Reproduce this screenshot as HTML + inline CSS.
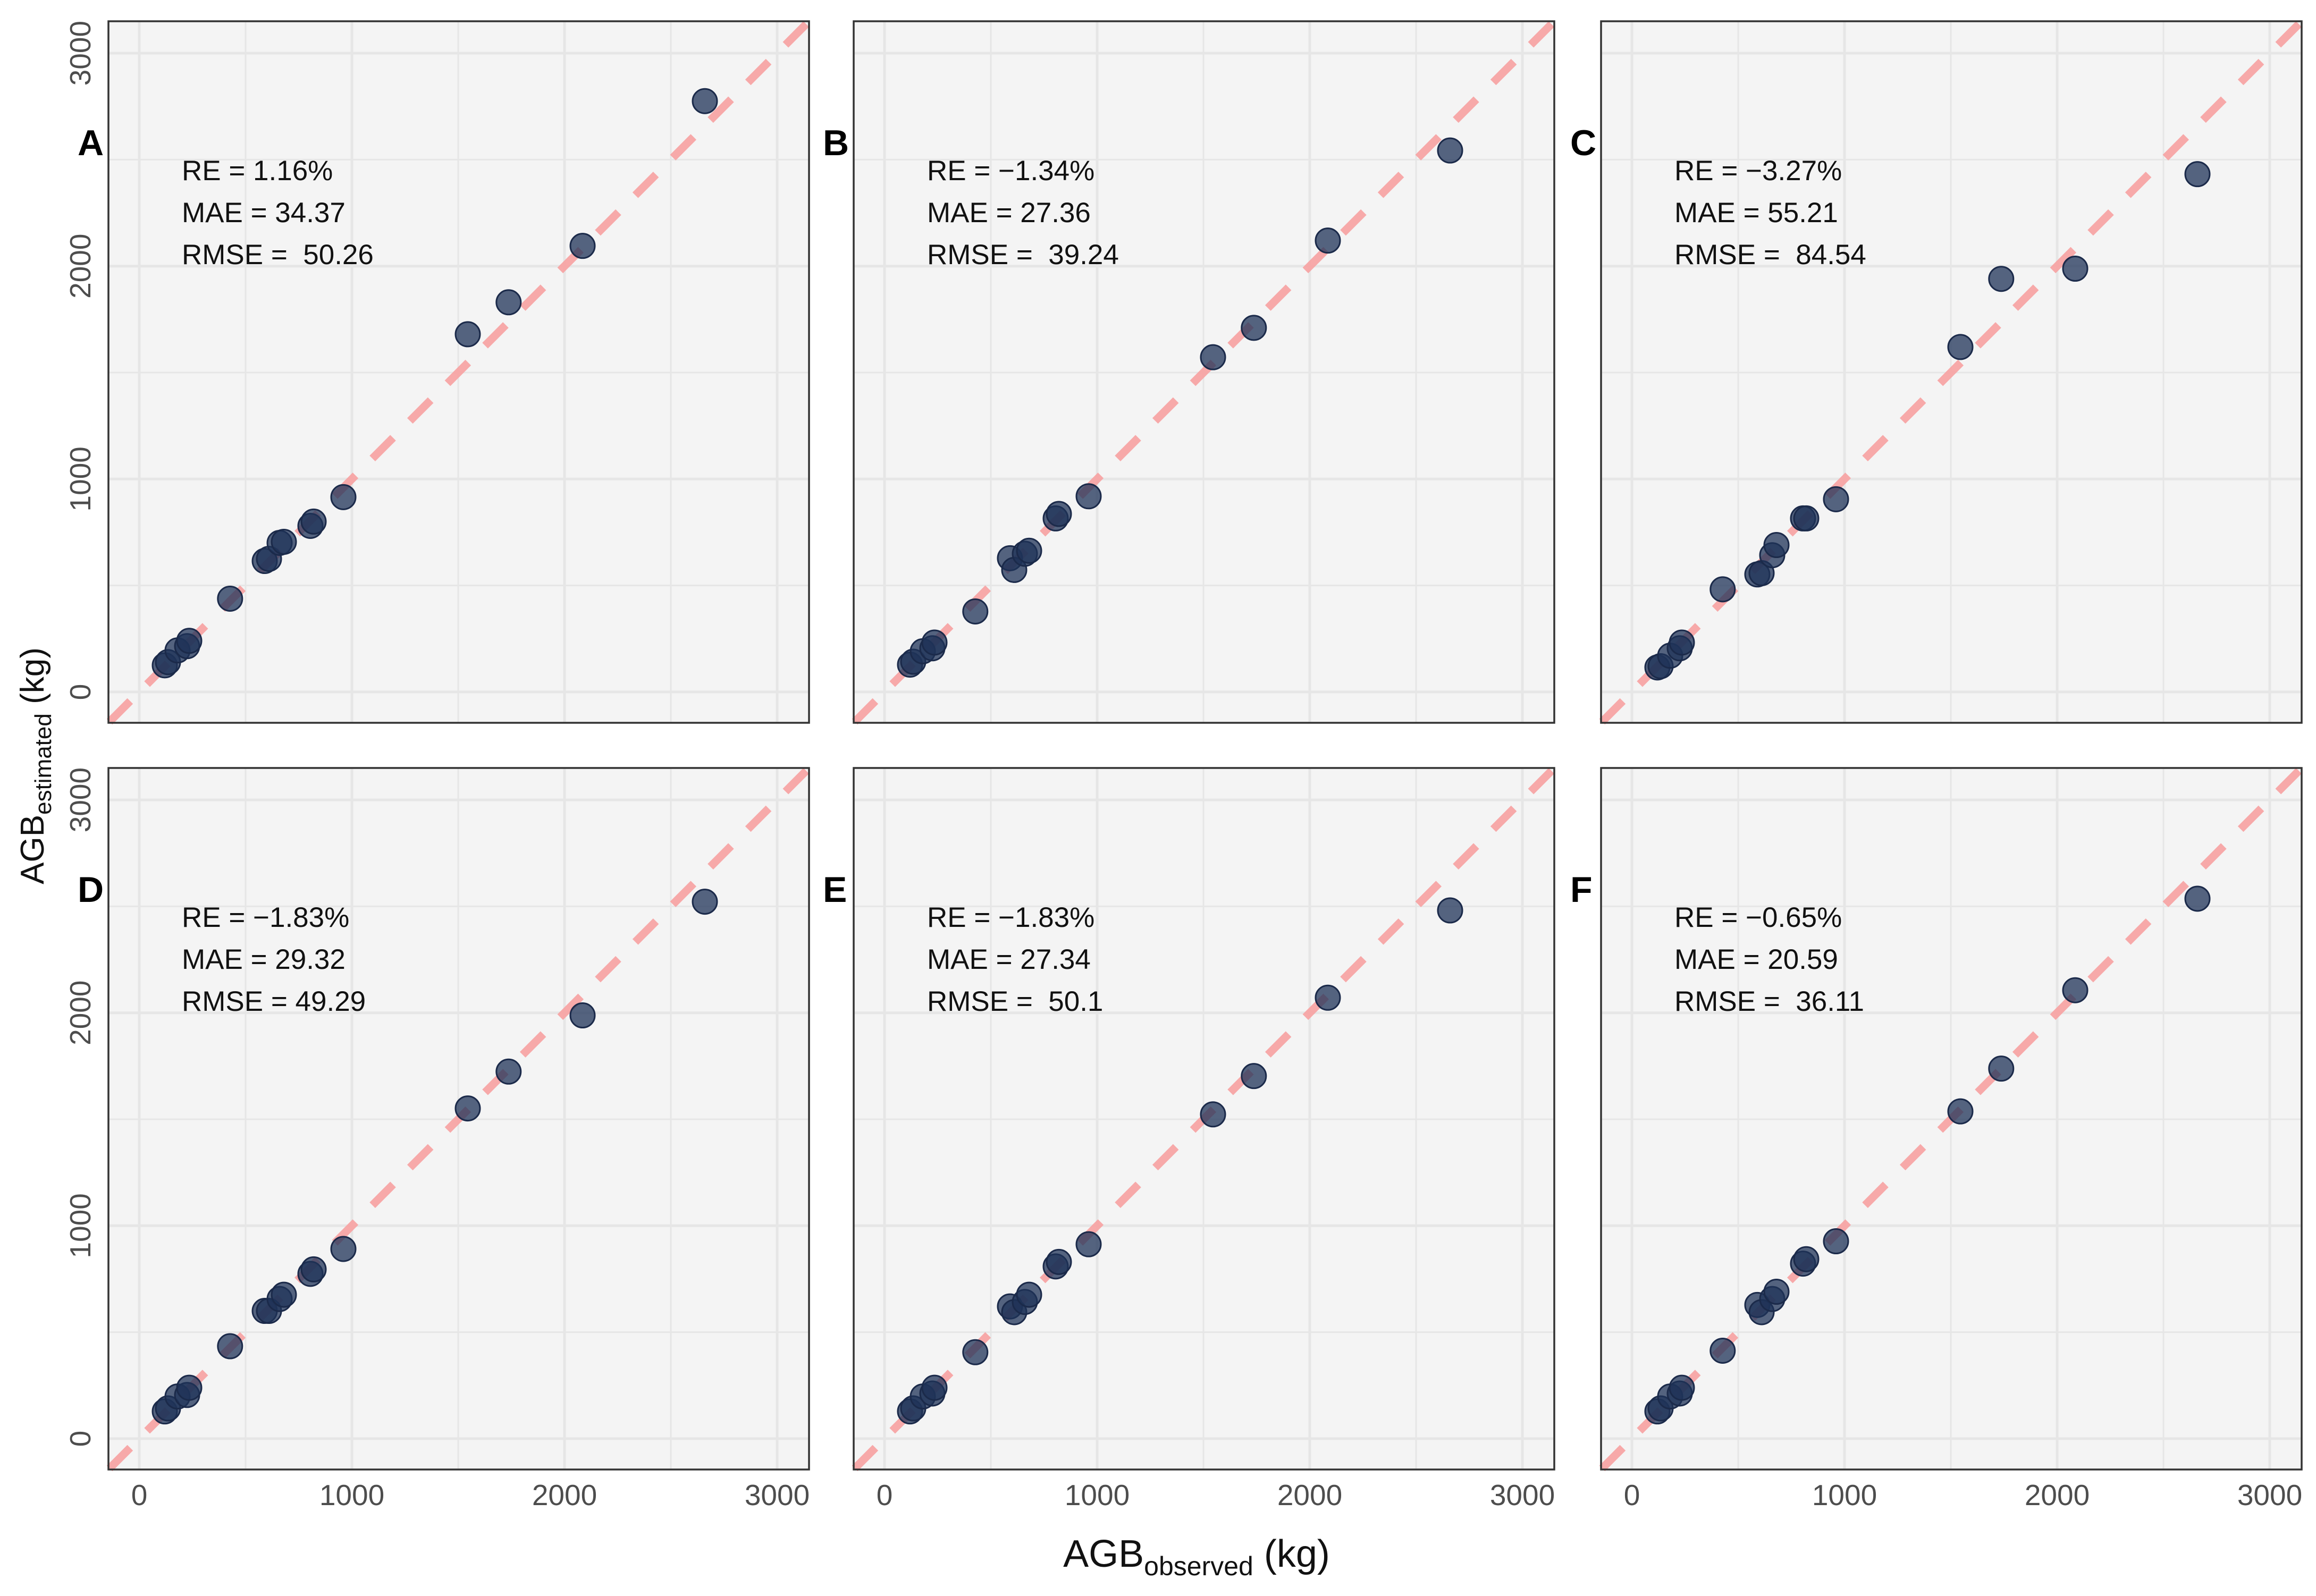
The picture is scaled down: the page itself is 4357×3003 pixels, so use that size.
<!DOCTYPE html>
<html><head><meta charset="utf-8"><style>
html,body{margin:0;padding:0;background:#fff;}
svg{display:block;font-family:"Liberation Sans",Arial,sans-serif;}
.pre{white-space:pre;}
</style></head><body>
<svg id="chart" width="4357" height="3003" viewBox="0 0 4357 3003" xmlns="http://www.w3.org/2000/svg">
<rect width="4357" height="3003" fill="#fff"/>
<text x="2251" y="2948" font-size="72" text-anchor="middle" fill="#111">AGB<tspan font-size="50" dy="16">observed</tspan><tspan dy="-16"> (kg)</tspan></text>
<text transform="translate(82,1441) rotate(-90)" font-size="62" text-anchor="middle" fill="#111">AGB<tspan font-size="44" dy="14">estimated</tspan><tspan dy="-14"> (kg)</tspan></text>
</svg>
<script>
const observed = [120,135,180,225,235,427,590,610,660,680,805,820,960,1545,1737,2085,2660];
const estA = [125,140,195,215,240,438,615,625,700,705,780,800,915,1680,1830,2095,2775];
const estB = [128,142,191,205,232,378,628,573,649,663,815,836,919,1572,1710,2120,2543];
const estC = [115,121,170,205,232,482,552,558,642,690,815,815,905,1620,1940,1988,2432];
const estD = [128,142,198,205,239,434,600,600,656,676,774,795,891,1551,1724,1988,2522];
const estE = [128,142,198,212,239,406,621,594,642,676,809,830,913,1523,1703,2071,2481];
const estF = [128,142,198,212,239,413,628,594,656,690,822,843,927,1537,1738,2106,2536];
const panelLetters = ["A","B","C","D","E","F"];
const reLabels = ["RE = 1.16%","RE = \u22121.34%","RE = \u22123.27%","RE = \u22121.83%","RE = \u22121.83%","RE = \u22120.65%"];
const maeLabels = ["MAE = 34.37","MAE = 27.36","MAE = 55.21","MAE = 29.32","MAE = 27.34","MAE = 20.59"];
const rmseLabels = ["RMSE =  50.26","RMSE =  39.24","RMSE =  84.54","RMSE = 49.29","RMSE =  50.1","RMSE =  36.11"];
const tickValues = [0,1000,2000,3000];
const tickLabels = ["0","1000","2000","3000"];
const estimates = [estA,estB,estC,estD,estE,estF];

const NS="http://www.w3.org/2000/svg";
const svg=document.getElementById('chart');
function mk(tag,attrs,parent){const e=document.createElementNS(NS,tag);for(const k in attrs)e.setAttribute(k,attrs[k]);(parent||svg).appendChild(e);return e;}
const panelLefts=[204,1606,3012], panelTops=[40,1445], PW=1318, PH=1320;
const DMIN=-145, DMAX=3150;
for(let p=0;p<6;p++){
  const col=p%3,row=Math.floor(p/3);
  const L=panelLefts[col],T=panelTops[row];
  const sx=v=>L+(v-DMIN)/(DMAX-DMIN)*PW;
  const sy=v=>T+PH-(v-DMIN)/(DMAX-DMIN)*PH;
  const g=mk('g',{});
  
  
  const bg=mk('rect',{x:L,y:T,width:PW,height:PH,fill:'#f4f4f4'},g);
  
  
  for(let v=0;v<=3000;v+=500){
    const major=v%1000===0;
    const gx=mk('line',{x1:sx(v),x2:sx(v),y1:T,y2:T+PH,stroke:'#e6e6e6','stroke-width':major?5:3},g);
    
    
    const gy=mk('line',{x1:L,x2:L+PW,y1:sy(v),y2:sy(v),stroke:'#e6e6e6','stroke-width':major?5:3},g);
    
    
  }
  const ref=mk('line',{x1:sx(DMIN+5),y1:sy(DMIN+5),x2:sx(DMAX-5),y2:sy(DMAX-5),stroke:'#f7a1a1','stroke-width':15,'stroke-dasharray':'55 45','stroke-opacity':0.9},g);
  
  
  const est=estimates[p];
  for(let i=0;i<observed.length;i++){
    const c=mk('circle',{cx:sx(observed[i]),cy:sy(est[i]),r:23,fill:'#1f3358','fill-opacity':0.75,stroke:'#1b2a4a','stroke-width':3},g);
    
    
  }
  const br=mk('rect',{x:L,y:T,width:PW,height:PH,fill:'none',stroke:'#333','stroke-width':3.5},g);
  
  
  const lines=[reLabels[p],maeLabels[p],rmseLabels[p]];
  for(let k=0;k<3;k++){
    const t=mk('text',{x:L+138,y:T+299+k*79,'font-size':53,fill:'#111','class':'pre'},g);
    t.textContent=lines[k];
    
    
  }
  const lt=mk('text',{x:L-58,y:T+252,'font-size':68,'font-weight':'bold',fill:'#000'},g);
  lt.textContent=panelLetters[p];
  
  
  if(row===1){
    for(let k=0;k<tickValues.length;k++){
      const t=mk('text',{x:sx(tickValues[k]),y:2832,'font-size':55,fill:'#4d4d4d','text-anchor':'middle'},g);
      t.textContent=tickLabels[k];
      
      
    }
  }
  if(col===0){
    for(let k=0;k<tickValues.length;k++){
      const y=sy(tickValues[k]);
      const t=mk('text',{transform:'translate(170,'+y+') rotate(-90)','font-size':55,fill:'#4d4d4d','text-anchor':'middle'},g);
      t.textContent=tickLabels[k];
      
      
    }
  }
}
</script>
</body></html>
